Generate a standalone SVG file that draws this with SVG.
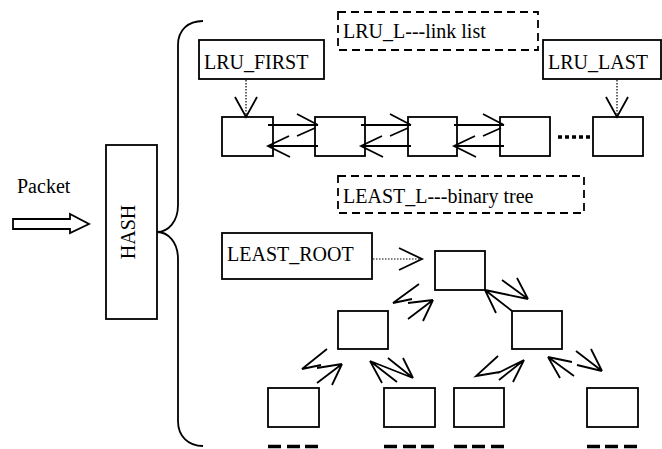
<svg xmlns="http://www.w3.org/2000/svg" width="662" height="449" viewBox="0 0 662 449">
  <style>
    .box { fill: #fff; stroke: #000; stroke-width: 1.8; }
    .dash { fill: none; stroke: #000; stroke-width: 1.8; stroke-dasharray: 8 5; }
    .lbl { font-size: 20px; fill: #000; }
    .ln { fill: none; stroke: #000; stroke-width: 1.8; stroke-linecap: butt; stroke-linejoin: miter; }
    .dot { fill: none; stroke: #000; stroke-width: 1.2; stroke-dasharray: 1.5 1.5; }
    .more { fill: none; stroke: #000; stroke-width: 3.5; }
  </style>
  <defs>
    <!-- pair of opposite arrows between two neighbouring list cells -->
    <g id="dbl">
      <path class="ln" d="M268,125 H318 M297,114 L318,125 M297,136 L315,128"/>
      <path class="ln" d="M318,146 H268 M289,136 L268,146 L290,157"/>
    </g>
  </defs>
  <rect width="662" height="449" fill="#fff"/>

  <g font-family="'Liberation Serif', 'DejaVu Serif', serif">
  <!-- incoming packet -->
  <g id="packet">
    <text class="lbl" x="17" y="193">Packet</text>
    <polygon class="box" points="13,219 70,219 70,214 89,224 70,233 70,229 13,229"/>
  </g>

  <!-- hash block -->
  <g id="hash">
    <rect class="box" x="106" y="145" width="51" height="174"/>
    <text class="lbl" text-anchor="middle" transform="translate(135,232) rotate(-90)">HASH</text>
  </g>

  <!-- brace grouping both structures -->
  <path id="brace" class="ln" d="M203,21 C188,21 178,30 178,45 V205 C178,222 168,232 157,232 C168,232 178,242 178,259 V421 C178,436 188,446 203,446"/>

  <!-- LRU linked list -->
  <g id="lru-title"><rect class="dash" x="338" y="12" width="200" height="38"/><text class="lbl" x="343" y="38">LRU_L---link list</text></g>
  <g id="lru-first"><rect class="box" x="199" y="40" width="125" height="39"/><text class="lbl" x="204" y="69">LRU_FIRST</text></g>
  <g id="lru-last"><rect class="box" x="543" y="40" width="118" height="39"/><text class="lbl" x="548" y="69">LRU_LAST</text></g>
  <g id="cell1"><rect class="box" x="222" y="117" width="51" height="39"/></g>
  <g id="cell2"><rect class="box" x="315" y="117" width="50" height="39"/></g>
  <g id="cell3"><rect class="box" x="408" y="117" width="49" height="39"/></g>
  <g id="cell4"><rect class="box" x="500" y="117" width="50" height="39"/></g>
  <g id="cell5"><rect class="box" x="593" y="117" width="50" height="39"/></g>

  <!-- binary tree -->
  <g id="least-title"><rect class="dash" x="338" y="176" width="246" height="37"/><text class="lbl" x="343" y="203">LEAST_L---binary tree</text></g>
  <g id="least-root"><rect class="box" x="222" y="233" width="150" height="46"/><text class="lbl" x="227" y="261">LEAST_ROOT</text></g>
  <g id="root"><rect class="box" x="435" y="251" width="50" height="39"/></g>
  <g id="left"><rect class="box" x="338" y="311" width="50" height="38"/></g>
  <g id="right"><rect class="box" x="512" y="311" width="50" height="38"/></g>
  <g id="leaf-a"><rect class="box" x="268" y="388" width="51" height="39"/></g>
  <g id="leaf-b"><rect class="box" x="384" y="388" width="51" height="39"/></g>
  <g id="leaf-c"><rect class="box" x="454" y="388" width="50" height="39"/></g>
  <g id="leaf-d"><rect class="box" x="587" y="388" width="51" height="39"/></g>
  </g>

  <g id="connectors">
    <!-- pointers into the list -->
    <path class="dot" d="M246,80 V116"/>
    <path class="ln" d="M235,97 L246,117 L257,97"/>
    <path class="dot" d="M617,80 V116"/>
    <path class="ln" d="M606,97 L617,117 L628,97"/>
    <!-- list links -->
    <use href="#dbl"/>
    <use href="#dbl" transform="translate(93,0)"/>
    <use href="#dbl" transform="translate(186,0)"/>
    <path class="more" d="M558,137 H593" stroke-dasharray="4 3"/>
    <!-- root pointer -->
    <path class="dot" d="M373,259 H421"/>
    <path class="ln" d="M399,248 L422,259 L399,270"/>
    <!-- root <-> left -->
    <path class="ln" d="M419,284 L393,303 L412,299 M408,303 L433,300 M408,319 L433,300 L423,321"/>
    <!-- root <-> right -->
    <path class="ln" d="M496,313 L485,290 L512,311 M485,290 L528,299 M502,280 L528,299 L517,278"/>
    <!-- left <-> leaf a -->
    <path class="ln" d="M327,349 L302,369 L321,365 M317,368 L342,364 M317,383 L342,364 L332,385"/>
    <!-- left <-> leaf b -->
    <path class="ln" d="M382,383 L370,361 L397,382 M370,361 L413,378 M388,358 L413,378 L403,358"/>
    <!-- right <-> leaf c -->
    <path class="ln" d="M498,356 L476,376 L500,372 M498,373 L524,360 M499,380 L524,360 L513,382"/>
    <!-- right <-> leaf d -->
    <path class="ln" d="M560,378 L548,357 L574,376 M548,357 L572,362 M577,365 L602,371 M576,351 L602,371 L591,349"/>
    <!-- continuation below the leaves -->
    <path class="more" d="M268,446.5 H281 M287,446.5 H300 M305,446.5 H318"/>
    <path class="more" d="M384,446.5 H397 M403,446.5 H416 M421,446.5 H434"/>
    <path class="more" d="M454,446.5 H467 M472,446.5 H485 M491,446.5 H504"/>
    <path class="more" d="M587,446.5 H600 M605,446.5 H618 M624,446.5 H637"/>
  </g>
</svg>
